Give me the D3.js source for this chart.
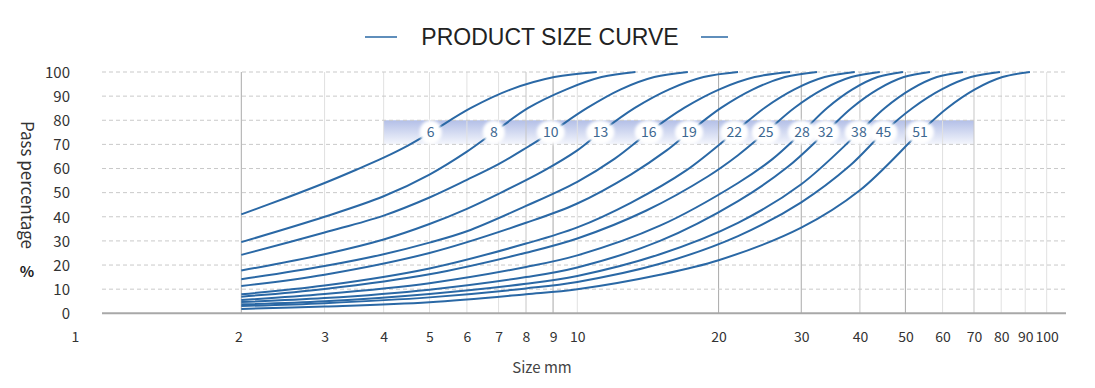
<!DOCTYPE html>
<html><head><meta charset="utf-8">
<script src="https://cdn.jsdelivr.net/npm/d3@7"></script>
<style>html,body{margin:0;padding:0;background:#fff;} svg{display:block}</style>
</head><body><svg id="chart" width="1095" height="388"></svg>
<script>
// ---------- data ----------
const chartTitle = "PRODUCT SIZE CURVE";
const xAxisTitle = "Size mm";
const yAxisTitle = "Pass percentage";
const xTickValues = [1,2,3,4,5,6,7,8,9,10,20,30,40,50,60,70,80,90,100];
const yTickValues = [0,10,20,30,40,50,60,70,80,90,100];
const curveLabels = ["6","8","10","13","16","19","22","25","28","32","38","45","51"];
const labelSizes = [5.03,6.84,8.91,11.2,14.2,17.3,21.6,25.2,30.1,33.8,39.8,44.9,53.7];
const labelPass = 75;
const bandSize = [4,70];
const bandPass = [70,80];

const curve6  = [[2,41],[2.5,48],[3,54],[3.5,59.5],[4,64.5],[4.5,69.5],[5.03,75],[6.12,85.1],[7.44,92.8],[9.05,97.9],[11.0,100]];
const curve8  = [[2,29.5],[3,40],[4,48.5],[5,57.5],[6,67],[6.84,75],[8.08,85.1],[9.54,92.8],[11.26,97.9],[13.3,100]];
const curve10 = [[2,24.2],[3,33.5],[4,40.5],[5,48],[6,55.3],[7,61.8],[8,68.5],[8.91,75],[10.5,85.1],[12.38,92.8],[14.59,97.9],[17.2,100]];
const curve13 = [[2,17.7],[3,24.5],[4,30.6],[5,37],[6,43.3],[7,49.5],[8.6,58.8],[10,67.5],[11.2,75],[13.26,85.1],[15.7,92.8],[18.58,97.9],[22,100]];
const curve16 = [[2,14.1],[3,19.6],[4,24.5],[5,29.3],[6,34],[8,44.5],[10,54.5],[12,64],[14.2,75],[16.89,85.1],[20.08,92.8],[23.88,97.9],[28.4,100]];
const curve19 = [[2,11.3],[3,16],[5,25],[8,37.5],[10,45.5],[13,57.5],[15.5,67.5],[17.3,75],[20.24,85.1],[23.68,92.8],[27.7,97.9],[32.4,100]];
const curve22 = [[2,7.9],[3,11.5],[5,18.6],[8,28.9],[10,35.6],[13,45.8],[17,59],[21.6,75],[25.04,85.1],[29.02,92.8],[33.64,97.9],[39,100]];
const curve25 = [[2,6.9],[3,10.1],[5,16.2],[8,25.1],[10,31],[14,42.5],[19,56.8],[22,65.5],[25.2,75],[28.99,85.1],[33.34,92.8],[38.35,97.9],[44.1,100]];
const curve28 = [[2,5.5],[3,8],[5,12.5],[8,19.2],[10,24],[15,36.3],[22,54],[26,63.8],[30.1,75],[34.06,85.1],[38.56,92.8],[43.64,97.9],[49.4,100]];
const curve32 = [[2,4.7],[3,6.3],[5,9.8],[8,15],[10,19],[15,30],[22,46.5],[28,60.5],[33.8,75],[38.41,85.1],[43.66,92.8],[49.63,97.9],[56.4,100]];
const curve38 = [[2,3.7],[3,5],[5,8],[8,12.2],[10,15.5],[15,24.5],[22,37.5],[30,53.5],[39.8,75],[45.21,85.1],[51.37,92.8],[58.36,97.9],[66.3,100]];
const curve45 = [[2,3],[3,4.2],[5,6.6],[8,10.3],[10,13],[15,20.5],[22,32],[30,46],[38,61],[44.9,75],[51.8,85.1],[59.74,92.8],[68.92,97.9],[79.5,100]];
const curve51 = [[2,1.8],[3,2.8],[5,4.6],[8,7.9],[10,10],[15,16],[20,22],[30,35.5],[40,51],[53.7,75],[61.45,85.1],[70.33,92.8],[80.49,97.9],[92.1,100]];
const curves = [curve6,curve8,curve10,curve13,curve16,curve19,curve22,curve25,curve28,curve32,curve38,curve45,curve51];

// ---------- layout ----------
const svg = d3.select("#chart");
const plotLeft = 102, plotRight = 1066;
// piecewise log scale following the reference's slightly irregular axis
const x = d3.scaleLog().domain([1,2,8,10,100]).range([98.9,241.3,526,577.3,1046.7]);
const y = d3.scaleLinear().domain([0,100]).range([313.3,72]);
const blue = "#2a68a5";
const tickFont = "'Noto Sans CJK SC','Noto Sans',sans-serif";

const defs = svg.append("defs");
const grad = defs.append("linearGradient").attr("id","bandGrad").attr("x1",0).attr("y1",0).attr("x2",0).attr("y2",1);
grad.append("stop").attr("offset","0%").attr("stop-color","#b3bfe7");
grad.append("stop").attr("offset","100%").attr("stop-color","#f4f6fc");
const blur = defs.append("filter").attr("id","soft").attr("x","-50%").attr("y","-50%").attr("width","200%").attr("height","200%");
blur.append("feGaussianBlur").attr("stdDeviation",1.6);

// band
svg.append("rect")
  .attr("x", x(bandSize[0])).attr("width", x(bandSize[1]) - x(bandSize[0]))
  .attr("y", y(bandPass[1])).attr("height", y(bandPass[0]) - y(bandPass[1]))
  .attr("fill","url(#bandGrad)");

// vertical grid
const darkV = [2,9,20,30,50], midV = [8,40,70];
svg.append("g").selectAll("line").data(xTickValues.filter(d=>d>1)).join("line")
  .attr("x1", d=>x(d)).attr("x2", d=>x(d))
  .attr("y1", y(0)).attr("y2", y(100))
  .attr("stroke", d=> darkV.includes(d) ? "#a9a9a9" : (midV.includes(d) ? "#c6c6c6" : "#e1e1e1"))
  .attr("stroke-width",1);

// horizontal dashed grid
svg.append("g").selectAll("line").data(yTickValues.filter(d=>d>0)).join("line")
  .attr("x1", plotLeft).attr("x2", plotRight)
  .attr("y1", d=>y(d)).attr("y2", d=>y(d))
  .attr("stroke","#c9c9c9").attr("stroke-width",1).attr("stroke-dasharray","4,3");

// x axis baseline
svg.append("line").attr("x1",plotLeft).attr("x2",plotRight).attr("y1",y(0)).attr("y2",y(0))
  .attr("stroke","#a8a8a8").attr("stroke-width",2);

// curves
const line = d3.line().x(d=>x(d[0])).y(d=>y(d[1])).curve(d3.curveCatmullRom.alpha(0.5));
svg.append("g").selectAll("path").data(curves).join("path")
  .attr("d", line).attr("fill","none").attr("stroke",blue).attr("stroke-width",2);

// curve labels
const lg = svg.append("g").selectAll("g").data(curveLabels).join("g")
  .attr("transform",(d,i)=>`translate(${x(labelSizes[i])},${y(labelPass)})`);
lg.append("ellipse").attr("rx", d=> d.length>1 ? 14 : 11).attr("ry",12).attr("fill","#fff").attr("filter","url(#soft)");
lg.append("text").text(d=>d).attr("text-anchor","middle").attr("dy","0.36em")
  .attr("font-family",tickFont).attr("font-size",14).attr("fill","#3d6891");

// axes labels
const xAxis = d3.axisBottom(x).tickValues(xTickValues).tickFormat(d3.format("d")).tickSize(0).tickPadding(0);
const gx = svg.append("g").attr("transform",`translate(0,${y(0)})`).call(xAxis);
gx.select(".domain").remove();
gx.selectAll("text").attr("y",29).attr("dy",0).attr("font-family",tickFont).attr("font-size",14).attr("fill","#333")
  .attr("x", d=> d===1 ? -24 : (d===2 ? -3 : 0));

const yAxis = d3.axisLeft(y).tickValues(yTickValues).tickFormat(d3.format("d")).tickSize(0).tickPadding(0);
const gy = svg.append("g").attr("transform",`translate(70,0)`).call(yAxis);
gy.select(".domain").remove();
gy.selectAll("text").attr("x",0).attr("dy","0.35em").attr("font-family",tickFont).attr("font-size",15).attr("fill","#333");

// axis titles
svg.append("text").text(xAxisTitle).attr("x",542).attr("y",373).attr("text-anchor","middle")
  .attr("font-family",tickFont).attr("font-size",15).attr("fill","#444");
svg.append("text").text(yAxisTitle).attr("transform","translate(21,185) rotate(90)").attr("text-anchor","middle")
  .attr("font-family",tickFont).attr("font-size",17).attr("fill","#333");
svg.append("text").text("%").attr("x",27).attr("y",277).attr("text-anchor","middle")
  .attr("font-family",tickFont).attr("font-size",15).attr("font-weight","bold").attr("fill","#222");

// title with flanking lines
svg.append("text").text(chartTitle).attr("x",550).attr("y",45).attr("text-anchor","middle")
  .attr("font-family","'Liberation Sans',Arial,sans-serif").attr("font-size",23).attr("fill","#222");
svg.append("line").attr("x1",365).attr("x2",397).attr("y1",37).attr("y2",37).attr("stroke",blue).attr("stroke-width",1.5);
svg.append("line").attr("x1",701).attr("x2",728).attr("y1",37).attr("y2",37).attr("stroke",blue).attr("stroke-width",1.5);
</script></body></html>
